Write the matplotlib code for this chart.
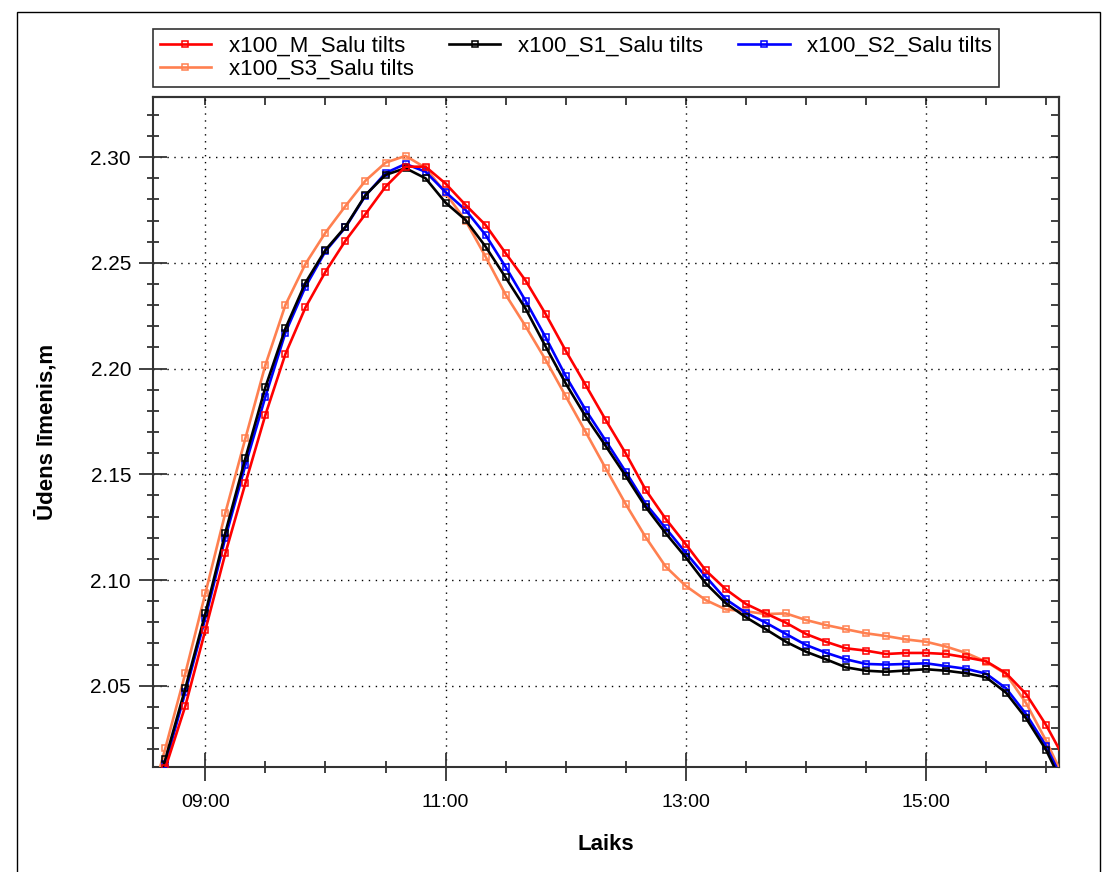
import numpy as np
import pandas as pd
import matplotlib
matplotlib.use("Agg")
import matplotlib.pyplot as plt
import matplotlib.dates as mdates
from matplotlib.ticker import MultipleLocator
from matplotlib.patches import Rectangle

plt.rcParams['font.family'] = ['Liberation Sans', 'DejaVu Sans']

# mērījumu laiki ik pa 10 minūtēm
laiks = pd.date_range("2000-01-01 08:30", "2000-01-01 16:10", freq="10min")

limenis_M = [1.980, 2.011, 2.0404, 2.0763, 2.1126, 2.1457, 2.1781, 2.2069, 2.2289, 2.2458,
             2.2605, 2.2731, 2.2860, 2.2955, 2.2955, 2.2875, 2.2774, 2.2679, 2.2546, 2.2416,
             2.2258, 2.2085, 2.1922, 2.1757, 2.1599, 2.1426, 2.1289, 2.1169, 2.1045, 2.0956,
             2.0887, 2.0842, 2.0798, 2.0745, 2.0708, 2.0677, 2.0666, 2.0650, 2.0655, 2.0655,
             2.0650, 2.0634, 2.0616, 2.0559, 2.0461, 2.0314, 2.014]

limenis_S1 = [1.982, 2.0152, 2.0488, 2.0842, 2.1224, 2.1576, 2.1912, 2.2190, 2.2406, 2.2561,
              2.2671, 2.2821, 2.2916, 2.2948, 2.2900, 2.2785, 2.2703, 2.2577, 2.2431, 2.2283,
              2.2104, 2.1930, 2.1773, 2.1634, 2.1492, 2.1345, 2.1221, 2.1107, 2.0984, 2.0890,
              2.0824, 2.0767, 2.0708, 2.0661, 2.0625, 2.0587, 2.0571, 2.0566, 2.0572, 2.0578,
              2.0571, 2.0559, 2.0540, 2.0467, 2.0346, 2.0196, 2.000]

limenis_S2 = [1.980, 2.013, 2.047, 2.082, 2.120, 2.1544, 2.1867, 2.2170, 2.2387, 2.2555,
              2.2668, 2.2818, 2.2925, 2.2968, 2.2931, 2.2835, 2.2750, 2.2632, 2.2481, 2.2320,
              2.2148, 2.1965, 2.1804, 2.1659, 2.1512, 2.1360, 2.1245, 2.1129, 2.1016, 2.0909,
              2.0845, 2.0798, 2.0745, 2.0693, 2.0656, 2.0625, 2.0603, 2.0600, 2.0603, 2.0606,
              2.0593, 2.0580, 2.0557, 2.0488, 2.0366, 2.0215, 2.002]

limenis_S3 = [1.986, 2.0204, 2.0559, 2.0937, 2.1318, 2.1670, 2.2017, 2.2301, 2.2495, 2.2643,
              2.2769, 2.2889, 2.2974, 2.3006, 2.2950, 2.2830, 2.2700, 2.2529, 2.2350, 2.2200,
              2.2041, 2.1870, 2.1700, 2.1528, 2.1359, 2.1202, 2.1063, 2.0972, 2.0905, 2.0861,
              2.0852, 2.0839, 2.0842, 2.0811, 2.0787, 2.0767, 2.0748, 2.0735, 2.0719, 2.0708,
              2.0685, 2.0655, 2.0614, 2.0555, 2.0418, 2.0240, 2.004]

nosaukumi = ["x100_M_Salu tilts", "x100_S1_Salu tilts", "x100_S2_Salu tilts", "x100_S3_Salu tilts"]
krasas = ["#ff0000", "#000000", "#0000ff", "#ff8050"]
dati = [limenis_M, limenis_S1, limenis_S2, limenis_S3]

fig = plt.figure(figsize=(11.04, 8.72), dpi=100)
ax = fig.add_axes([153.3 / 1104, 1 - 766.7 / 872, (1059.3 - 153.3) / 1104, (766.7 - 96.7) / 872])

linijas = {}
for i in range(3, -1, -1):
    l, = ax.plot(laiks, dati[i], color=krasas[i], lw=1.9, marker="s", ms=4.8,
                 mfc="none", mew=1.1, zorder=3 + (3 - i), label=nosaukumi[i])
    linijas[i] = l

ax.set_xlim(pd.Timestamp("2000-01-01 08:34"), pd.Timestamp("2000-01-01 16:06:36"))
ax.set_ylim(2.0117, 2.3286)

ax.xaxis.set_major_locator(mdates.HourLocator(byhour=[9, 11, 13, 15]))
ax.xaxis.set_minor_locator(mdates.MinuteLocator(byminute=[0, 30]))
ax.xaxis.set_major_formatter(mdates.DateFormatter("%H:%M"))
ax.yaxis.set_major_locator(MultipleLocator(0.05))
ax.yaxis.set_minor_locator(MultipleLocator(0.01))
ax.yaxis.set_major_formatter(plt.FormatStrFormatter("%.2f"))

ax.tick_params(which="major", direction="inout", length=20, width=1.3, labelsize=14,
               color="#333333")
ax.tick_params(which="minor", direction="inout", length=9, width=1.3, color="#333333")
ax.tick_params(axis="x", which="major", pad=10)
ax.tick_params(axis="y", which="major", pad=6, labelsize=15)

# augšējā un labā ass ar iekšējām atzīmēm
augsa = ax.secondary_xaxis("top")
augsa.xaxis.set_major_locator(mdates.MinuteLocator(byminute=[0, 30]))
augsa.tick_params(direction="in", length=6, width=1.3, labeltop=False, color="#333333")
pa_labi = ax.secondary_yaxis("right")
pa_labi.yaxis.set_major_locator(MultipleLocator(0.01))
pa_labi.tick_params(direction="in", length=6, width=1.3, labelright=False, color="#333333")

ax.grid(True, which="major", color="black", lw=1.0, linestyle=(0, (1, 4)))

for a in (ax, augsa, pa_labi):
    for s in a.spines.values():
        s.set_linewidth(1.5)
        s.set_color("#333333")

ax.set_xlabel("Laiks", fontsize=16, fontweight="bold", labelpad=16)
ax.set_ylabel("Ūdens līmenis,m", fontsize=16, fontweight="bold", labelpad=24)

kartiba = [0, 3, 1, 2]
leg = fig.legend([linijas[i] for i in kartiba], [nosaukumi[i] for i in kartiba],
                 ncol=3, loc="upper left", bbox_to_anchor=(153 / 1104, 1 - 29 / 872),
                 fontsize=16, frameon=True, fancybox=False, borderaxespad=0,
                 handlelength=2.3, handletextpad=0.8, columnspacing=1.6,
                 borderpad=0.3, labelspacing=0.1)
leg.get_frame().set_edgecolor("black")
leg.get_frame().set_linewidth(1.2)

fig.patches.append(Rectangle((17 / 1104, -0.05), (1100 - 17) / 1104, 1.05 - 12 / 872,
                             transform=fig.transFigure, fill=False, ec="black", lw=1.0))

fig.savefig("out.png", dpi=100)
